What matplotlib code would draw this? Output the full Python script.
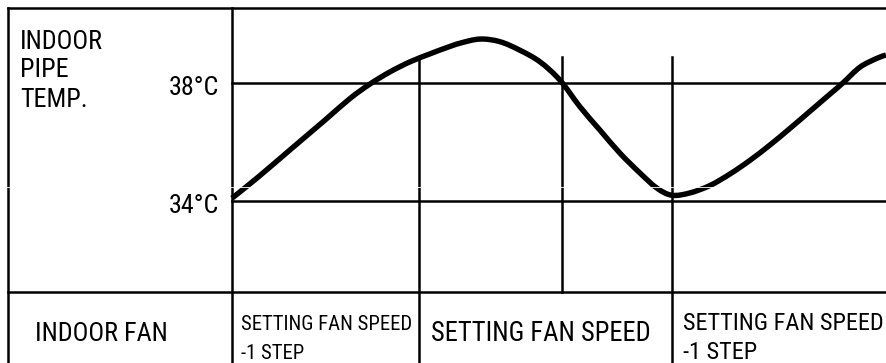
"""Indoor fan speed control vs indoor pipe temperature (timing diagram)."""

import matplotlib

matplotlib.use("Agg")
import matplotlib.pyplot as plt
from matplotlib.patches import PathPatch
from matplotlib.path import Path

# curve: time (0..100 across the chart area) and pipe temp in degC
curve_time = [0.0, 3.98, 9.17, 14.22, 18.04, 21.10, 24.16, 27.22, 30.28, 32.57, 34.86,
              37.92, 40.98, 44.04, 47.09, 50.15, 53.21, 56.27, 59.33, 62.39, 64.98, 67.28,
              70.03, 73.09, 76.15, 79.20, 82.26, 85.32, 88.38, 91.44, 93.43, 96.02, 98.62, 100.0]
curve_temp = [34.10, 34.81, 35.79, 36.74, 37.47, 37.96, 38.37, 38.71, 38.98, 39.17, 39.34,
              39.48, 39.39, 39.10, 38.71, 38.09, 37.19, 36.40, 35.62, 34.95, 34.44, 34.20,
              34.28, 34.53, 34.92, 35.38, 35.90, 36.46, 37.04, 37.62, 38.00, 38.53, 38.83, 38.94]

levels = [38, 34]
level_labels = ["38°C", "34°C"]
switch_times = [28.67, 50.4, 67.23]
switch_top = 38.88
axis_label = ["INDOOR", "PIPE", "TEMP."]
row_label = "INDOOR FAN"
fan_labels = [["SETTING FAN SPEED", "-1 STEP"], ["SETTING FAN SPEED"], ["SETTING FAN SPEED", "-1 STEP"]]

# frame of the table, same units
x_left, x_border, x_right = -35.47, -34.25, 100.0
y_top, y_frame, y_split, y_bottom = 40.80, 40.53, 30.93, 28.53


def smooth_path(xs, ys):
    # Catmull-Rom through the read points, drawn as cubic Bezier pieces
    pts = list(zip(xs, ys))
    verts = [pts[0]]
    codes = [Path.MOVETO]
    for i in range(len(pts) - 1):
        p0 = pts[max(i - 1, 0)]
        p1, p2 = pts[i], pts[i + 1]
        p3 = pts[min(i + 2, len(pts) - 1)]
        c1 = (p1[0] + (p2[0] - p0[0]) / 6, p1[1] + (p2[1] - p0[1]) / 6)
        c2 = (p2[0] - (p3[0] - p1[0]) / 6, p2[1] - (p3[1] - p1[1]) / 6)
        verts += [c1, c2, p2]
        codes += [Path.CURVE4] * 3
    return Path(verts, codes)


plt.rcParams["font.family"] = ["Roboto Condensed", "Liberation Sans", "DejaVu Sans"]

fig = plt.figure(figsize=(8.86, 3.63), dpi=100)
ax = fig.add_axes([0, 0, 1, 1])
ax.set_xlim(x_left, x_right)
ax.set_ylim(y_bottom, y_top)
ax.set_axis_off()

lw = 1.8
# table frame
ax.plot([x_border, x_right], [y_frame, y_frame], color="black", lw=lw)
ax.plot([x_border, x_border], [y_frame, y_bottom], color="black", lw=lw)
ax.plot([0, 0], [y_frame, y_bottom], color="black", lw=lw)
ax.plot([x_border, x_right], [y_split, y_split], color="black", lw=lw)
for lev in levels:
    ax.plot([0, x_right], [lev, lev], color="black", lw=lw)

# fan speed switching moments
ax.plot([switch_times[0]] * 2, [switch_top, y_bottom], color="black", lw=lw)
ax.plot([switch_times[1]] * 2, [switch_top, y_split], color="black", lw=lw)
ax.plot([switch_times[2]] * 2, [switch_top, y_bottom], color="black", lw=lw)

ax.add_patch(PathPatch(smooth_path(curve_time, curve_temp), facecolor="none",
                       edgecolor="black", lw=3.9, capstyle="butt", joinstyle="round"))

# thin scan streak seen in the original
ax.axhline(34.47, color="white", lw=0.6)

fs_big = 18.8
for i, line in enumerate(axis_label):
    ax.text(-32.4, [39.15, 38.20, 37.19][i], line, fontsize=fs_big, va="baseline", ha="left")
for lev, lab in zip(levels, level_labels):
    ax.text(-1.99, lev - 0.41, lab, fontsize=fs_big, va="baseline", ha="right")

ax.text(-30.1, 29.29, row_label, fontsize=fs_big, va="baseline", ha="left")
ax.text(1.38, 29.63, fan_labels[0][0], fontsize=14.9, va="baseline", ha="left")
ax.text(1.38, 28.65, fan_labels[0][1], fontsize=14.9, va="baseline", ha="left")
ax.text(30.5, 29.29, fan_labels[1][0], fontsize=19.1, va="baseline", ha="left")
ax.text(68.96, 29.63, fan_labels[2][0], fontsize=17.5, va="baseline", ha="left")
ax.text(68.96, 28.65, fan_labels[2][1], fontsize=17.5, va="baseline", ha="left")

fig.savefig("out.png", dpi=100)
